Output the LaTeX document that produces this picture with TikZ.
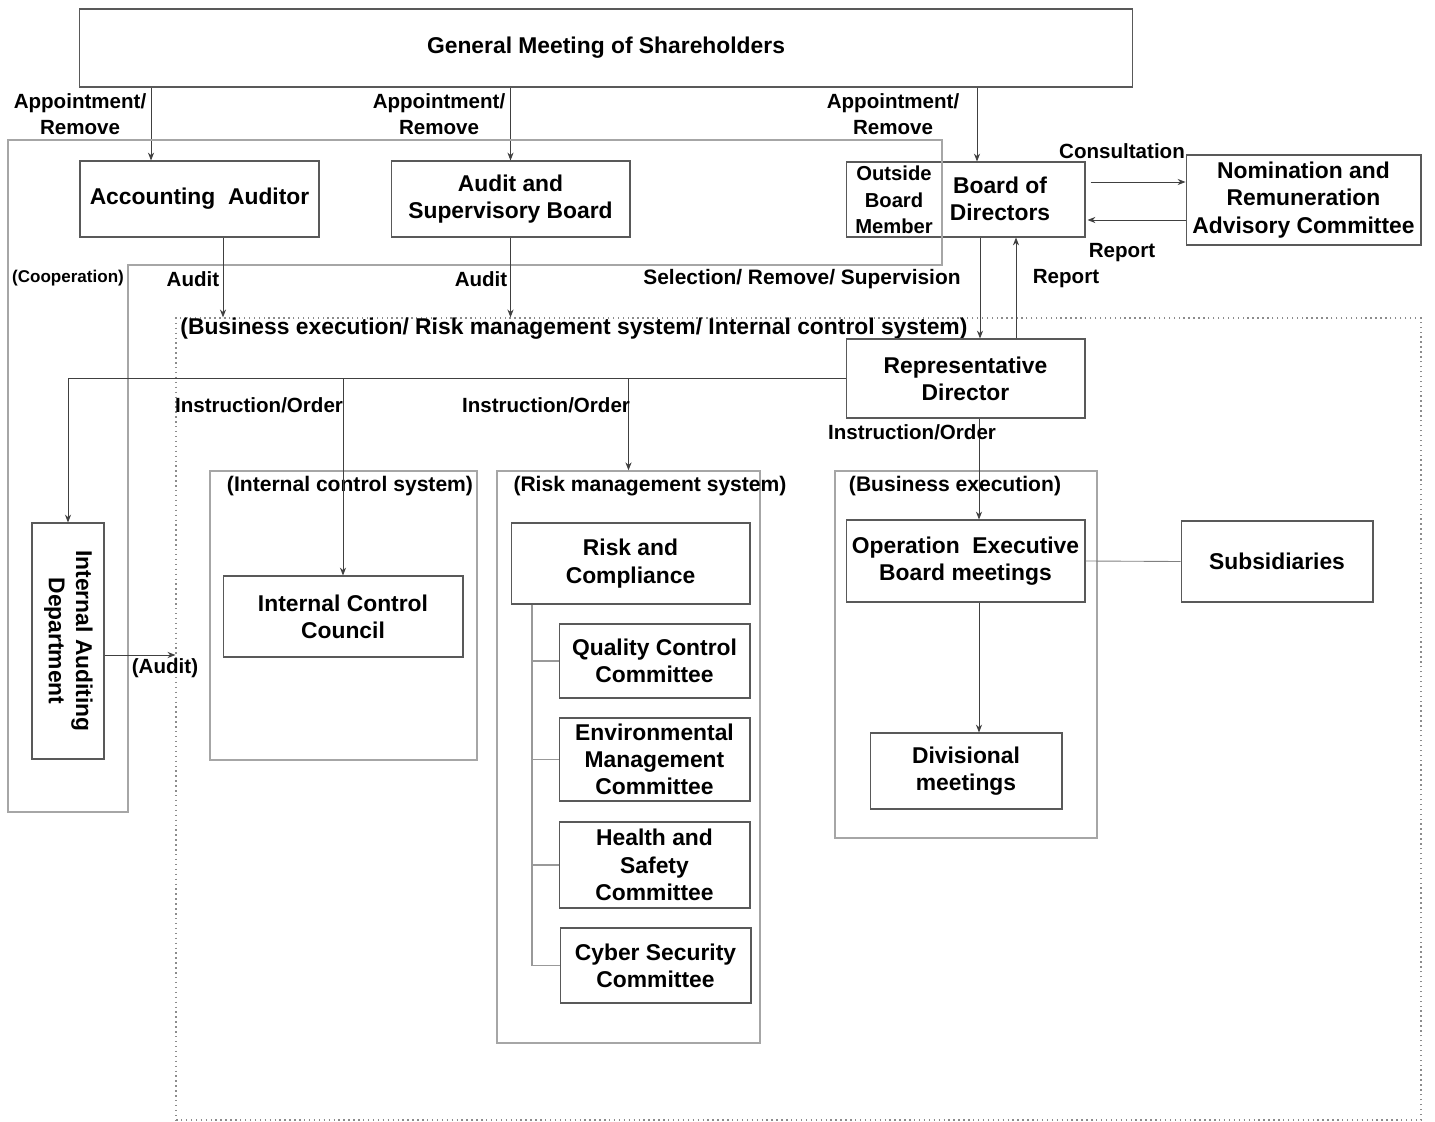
\documentclass[tikz,border=0pt]{standalone}
\usepackage{fontspec}
\setmainfont{Liberation Sans}
\usetikzlibrary{arrows.meta}

\newcommand{\boxfont}{\fontsize{13}{15.5}\selectfont\bfseries}
\newcommand{\lblfont}{\fontsize{11.7}{14.8}\selectfont\bfseries}
\newcommand{\grpfont}{\fontsize{12}{14}\selectfont\bfseries}

\tikzset{
  unit/.style = {draw = black!65, line width = 0.6pt, align = center, inner sep = 0pt, font = \boxfont},
  group/.style = {draw = black!35, line width = 0.9pt, inner sep = 0pt},
  tag/.style = {font = \lblfont, align = center, inner sep = 0pt},
  conn/.style = {->, draw = black!75},
}

\begin{document}
\begin{tikzpicture} [x = 0.02cm, y = -0.02cm, >= {Stealth[length = 4.5pt, width = 3.5pt]}, line width = 0.5pt]
    \useasboundingbox (0,0) rectangle (1435,1121);

    % shareholders and the three bodies they appoint
    \node [unit, minimum width = 21.08cm, minimum height = 1.56cm] (gms) at (606,48) {General Meeting of Shareholders};
    \node [unit, minimum width = 4.78cm, minimum height = 1.52cm] (acc) at (199.5,199) {Accounting\ \ Auditor};
    \node [unit, minimum width = 4.78cm, minimum height = 1.52cm] (asb) at (510.5,199) {Audit and\\Supervisory Board};
    \node [unit, minimum width = 4.78cm, minimum height = 1.5cm] (bod) at (965.5,199.5) {};
    \node [tag, font = \fontsize{11.5}{15}\selectfont\bfseries] (obm) at (894,200) {Outside\\Board\\Member};
    \node [tag, font = \boxfont] (bod-t) at (1000,199) {Board of\\Directors};
    \node [unit, minimum width = 4.7cm, minimum height = 1.8cm] (nrac) at (1303.5,200) {Nomination and\\Remuneration\\Advisory Committee};

    \draw [conn] ([xshift = -0.97cm]acc.north |- gms.south) -- ([xshift = -0.97cm]acc.north);
    \draw [conn] (asb.north |- gms.south) -- (asb.north);
    \draw [conn] ([xshift = 0.23cm]bod.north |- gms.south) -- ([xshift = 0.23cm]bod.north);
    \node [tag] (app1) at (80,114) {Appointment/\\Remove};
    \node [tag] (app2) at (439,114) {Appointment/\\Remove};
    \node [tag] (app3) at (893,114) {Appointment/\\Remove};

    \draw [conn] ([yshift = 0.35cm, xshift = 0.1cm]bod.east) -- ([yshift = 0.35cm]bod.east -| nrac.west);
    \draw [conn] ([yshift = -0.41cm]bod.east -| nrac.west) -- ([yshift = -0.41cm, xshift = 0.04cm]bod.east);
    \node [tag] (cons) at (1122,151) {Consultation};
    \node [tag] (rep1) at (1122,253) {Report};

    % cooperation frame
    \draw [draw = black!35, line width = 0.9pt] (8,140) -- (942,140) -- (942,265) -- (128,265) -- (128,812) -- (8,812) -- cycle;
    \node [tag, font = \fontsize{9.7}{11}\selectfont\bfseries] (coop) at (68,278) {(Cooperation)};

    % execution area
    \node [draw = black!45, dotted, line width = 0.8pt, minimum width = 24.9cm, minimum height = 16.04cm, inner sep = 0pt] (exec) at (798.5,719) {};
    \node [tag, font = \fontsize{13}{15}\selectfont\bfseries, anchor = west] (exec-t) at (180,329) {(Business execution/ Risk management system/ Internal control system)};

    \draw [conn] ([xshift = 0.47cm]acc.south) -- ([xshift = 0.47cm]acc.south |- exec.north);
    \draw [conn] (asb.south) -- (asb.south |- exec.north);
    \node [tag] (audit1) at (193,279) {Audit};
    \node [tag] (audit2) at (481,279) {Audit};

    \node [unit, minimum width = 4.78cm, minimum height = 1.58cm] (rep) at (965.5,378.5) {Representative\\Director};
    \draw [conn] ([xshift = 0.29cm]bod.south) -- ([xshift = 0.29cm]bod.south |- rep.north);
    \draw [conn] ([xshift = 1.01cm]rep.north) -- ([xshift = 1.01cm]rep.north |- bod.south);
    \node [tag, font = \fontsize{11.9}{14}\selectfont\bfseries] (sel) at (802,279) {Selection/ Remove/ Supervision};
    \node [tag] (rep2) at (1066,279) {Report};

    % groups
    \node [group, minimum width = 5.34cm, minimum height = 5.78cm] (icsys) at (343.5,615.5) {};
    \node [group, minimum width = 5.26cm, minimum height = 11.44cm] (rmsys) at (628.5,757) {};
    \node [group, minimum width = 5.24cm, minimum height = 7.34cm] (besys) at (966,654.5) {};
    \node [tag, font = \grpfont] (icsys-t) at (350,486) {(Internal control system)};
    \node [tag, font = \grpfont] (rmsys-t) at (650,486) {(Risk management system)};
    \node [tag, font = \grpfont] (besys-t) at (955,486) {(Business execution)};

    \node [unit, minimum width = 1.44cm, minimum height = 4.72cm] (iad) at (68,641) {\rotatebox{-90}{\begin{tabular}{@{}c@{}}Internal Auditing\\Department\end{tabular}}};
    \node [unit, minimum width = 4.8cm, minimum height = 1.62cm] (icc) at (343,616.5) {Internal Control\\Council};
    \node [unit, minimum width = 4.78cm, minimum height = 1.62cm] (rc) at (630.5,563.5) {Risk and\\Compliance};
    \node [unit, minimum width = 3.82cm, minimum height = 1.48cm] (qcc) at (654.5,661) {Quality Control\\Committee};
    \node [unit, minimum width = 3.82cm, minimum height = 1.66cm] (emc) at (654.5,759.5) {Environmental\\Management\\Committee};
    \node [unit, minimum width = 3.82cm, minimum height = 1.72cm] (hsc) at (654.5,865) {Health and\\Safety\\Committee};
    \node [unit, minimum width = 3.82cm, minimum height = 1.5cm] (csc) at (655.5,965.5) {Cyber Security\\Committee};
    \node [unit, minimum width = 4.78cm, minimum height = 1.64cm] (oeb) at (965.5,561) {Operation\ \ Executive\\Board meetings};
    \node [unit, minimum width = 3.84cm, minimum height = 1.52cm] (div) at (966,771) {Divisional\\meetings};
    \node [unit, minimum width = 3.84cm, minimum height = 1.62cm] (sub) at (1277,561.5) {Subsidiaries};

    % instruction lines
    \draw [conn] (rep.west) -| (iad.north);
    \draw [conn] (icc.north |- rep.west) -- (icc.north);
    \draw [conn] (rmsys.north |- rep.west) -- (rmsys.north);
    \draw [conn] ([xshift = 0.27cm]rep.south) -- ([xshift = 0.27cm]rep.south |- oeb.north);
    \draw [conn] ([xshift = 0.27cm]oeb.south) -- ([xshift = 0.27cm]oeb.south |- div.north);
    \draw [draw = black!50] (oeb.east) -- (sub.west);
    \node [tag] (ins1) at (259,405) {Instruction/Order};
    \node [tag] (ins2) at (546,405) {Instruction/Order};
    \node [tag] (ins3) at (912,432) {Instruction/Order};

    \draw [conn] ([yshift = -0.28cm]iad.east) -- ([yshift = -0.28cm]iad.east -| exec.west);
    \node [tag] (audit3) at (165,668) {(Audit)};

    % committees under risk and compliance
    \coordinate (spine) at ([xshift = -1.97cm]rc.south);
    \draw [draw = black!40, line width = 0.8pt] (spine) |- (csc.west);
    \foreach \c in {qcc, emc, hsc}
        \draw [draw = black!40, line width = 0.8pt] (\c.west) -- (\c.west -| spine);

\end{tikzpicture}
\end{document}
